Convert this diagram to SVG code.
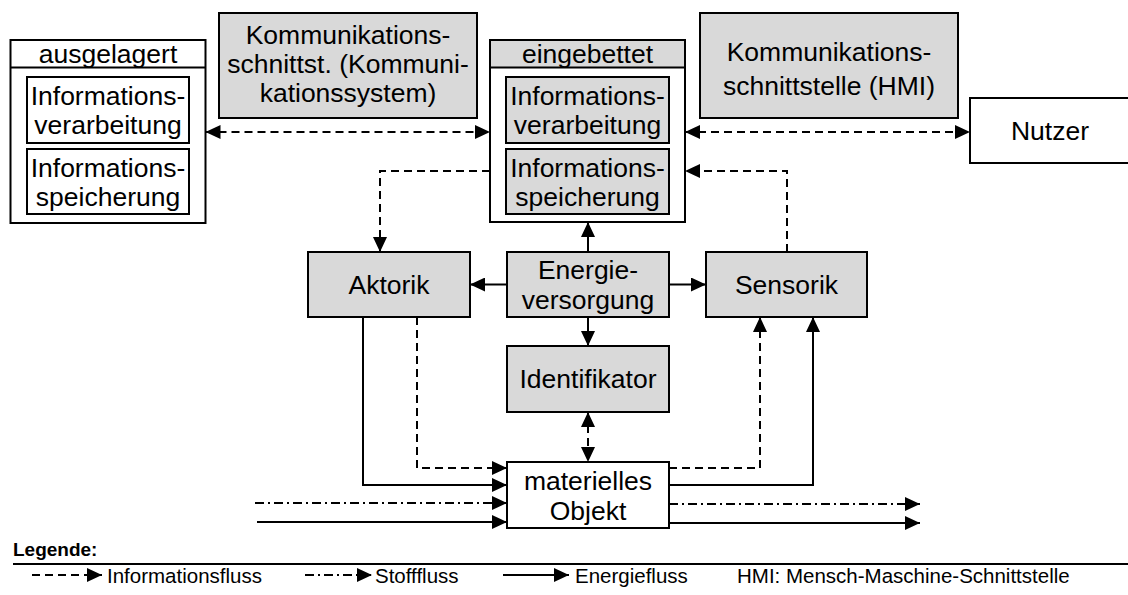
<svg xmlns="http://www.w3.org/2000/svg" width="1128" height="595" viewBox="0 0 1128 595">
  <style>
    .box { fill: #ffffff; stroke: #000000; stroke-width: 2; }
    .gray { fill: #d9d9d9; }
    .sep { stroke: #000000; stroke-width: 2; }
    .t { font-family: "Liberation Sans", Arial, sans-serif; font-size: 26.5px; text-anchor: middle; fill: #000000; }
    .lg { font-family: "Liberation Sans", Arial, sans-serif; font-size: 20.5px; fill: #000000; }
    .lgh { font-family: "Liberation Sans", Arial, sans-serif; font-size: 19px; font-weight: bold; fill: #000000; }
    .ln { fill: none; stroke: #000000; stroke-width: 2; }
    .info { stroke-dasharray: 8 5; }
    .stoff { stroke-dasharray: 9 4 2 4; }
  </style>
  <defs>
    <marker id="arrow" markerUnits="userSpaceOnUse" markerWidth="15" markerHeight="14" refX="15" refY="7" orient="auto-start-reverse">
      <path d="M0,0 L15,7 L0,14 z" fill="#000000"/>
    </marker>
  </defs>

  <!-- external information processing -->
  <g id="ausgelagert">
    <rect class="box" x="10.5" y="40" width="195" height="183"/>
    <line class="sep" x1="10.5" y1="67.5" x2="205.5" y2="67.5"/>
    <text class="t" x="108" y="63">ausgelagert</text>
    <rect class="box" x="27" y="77" width="162" height="66"/>
    <text class="t" x="108" y="105">Informations-</text>
    <text class="t" x="108" y="134">verarbeitung</text>
    <rect class="box" x="27" y="149" width="162" height="65"/>
    <text class="t" x="108" y="177">Informations-</text>
    <text class="t" x="108" y="206">speicherung</text>
  </g>

  <g id="komm-system">
    <rect class="box gray" x="219" y="13" width="258" height="105"/>
    <text class="t" x="348" y="44">Kommunikations-</text>
    <text class="t" x="348" y="73">schnittst. (Kommuni-</text>
    <text class="t" x="348" y="102">kationssystem)</text>
  </g>

  <!-- embedded information processing -->
  <g id="eingebettet">
    <rect class="box" x="490" y="40" width="195" height="182"/>
    <rect class="gray" x="491" y="41" width="193" height="26.5"/>
    <line class="sep" x1="490" y1="67.5" x2="685" y2="67.5"/>
    <text class="t" x="587.5" y="63">eingebettet</text>
    <rect class="box gray" x="506" y="77" width="163" height="66"/>
    <text class="t" x="587.5" y="105">Informations-</text>
    <text class="t" x="587.5" y="134">verarbeitung</text>
    <rect class="box gray" x="506" y="149" width="163" height="65"/>
    <text class="t" x="587.5" y="177">Informations-</text>
    <text class="t" x="587.5" y="206">speicherung</text>
  </g>

  <g id="komm-hmi">
    <rect class="box gray" x="700" y="13" width="258" height="105"/>
    <text class="t" x="829" y="61">Kommunikations-</text>
    <text class="t" x="829" y="95">schnittstelle (HMI)</text>
  </g>

  <g id="nutzer">
    <rect class="box" x="970" y="98" width="170" height="65"/>
    <text class="t" x="1050" y="140">Nutzer</text>
  </g>

  <g id="aktorik">
    <rect class="box gray" x="308" y="252" width="162" height="65"/>
    <text class="t" x="389" y="294">Aktorik</text>
  </g>

  <g id="energieversorgung">
    <rect class="box gray" x="507" y="252" width="162" height="65"/>
    <text class="t" x="588" y="279">Energie-</text>
    <text class="t" x="588" y="309">versorgung</text>
  </g>

  <g id="sensorik">
    <rect class="box gray" x="706" y="252" width="161" height="65"/>
    <text class="t" x="786.5" y="294">Sensorik</text>
  </g>

  <g id="identifikator">
    <rect class="box gray" x="507" y="346" width="162" height="66"/>
    <text class="t" x="588" y="388">Identifikator</text>
  </g>

  <g id="objekt">
    <rect class="box" x="507" y="462" width="162" height="66"/>
    <text class="t" x="588" y="490">materielles</text>
    <text class="t" x="588" y="520">Objekt</text>
  </g>

  <g id="connectors">
    <!-- information flows -->
    <line class="ln info" x1="205.5" y1="132" x2="490" y2="132" marker-start="url(#arrow)" marker-end="url(#arrow)"/>
    <line class="ln info" x1="685" y1="132" x2="970" y2="132" marker-start="url(#arrow)" marker-end="url(#arrow)"/>
    <polyline class="ln info" points="490,171 380,171 380,252" marker-end="url(#arrow)"/>
    <polyline class="ln info" points="787,252 787,171 685,171" marker-end="url(#arrow)"/>
    <line class="ln info" x1="588" y1="412" x2="588" y2="462" marker-start="url(#arrow)" marker-end="url(#arrow)"/>
    <polyline class="ln info" points="417,317 417,468 507,468" marker-end="url(#arrow)"/>
    <polyline class="ln info" points="669,468 760,468 760,317" marker-end="url(#arrow)"/>
    <!-- energy flows -->
    <line class="ln" x1="588" y1="252" x2="588" y2="222" marker-end="url(#arrow)"/>
    <line class="ln" x1="507" y1="284.5" x2="470" y2="284.5" marker-end="url(#arrow)"/>
    <line class="ln" x1="669" y1="284.5" x2="706" y2="284.5" marker-end="url(#arrow)"/>
    <line class="ln" x1="588" y1="317" x2="588" y2="346" marker-end="url(#arrow)"/>
    <polyline class="ln" points="363,317 363,485 507,485" marker-end="url(#arrow)"/>
    <polyline class="ln" points="669,485 813,485 813,317" marker-end="url(#arrow)"/>
    <line class="ln" x1="257" y1="522" x2="507" y2="522" marker-end="url(#arrow)"/>
    <line class="ln" x1="669" y1="523" x2="920" y2="523" marker-end="url(#arrow)"/>
    <!-- material flows -->
    <line class="ln stoff" x1="255" y1="503" x2="507" y2="503" marker-end="url(#arrow)"/>
    <line class="ln stoff" x1="669" y1="504" x2="920" y2="504" marker-end="url(#arrow)"/>
  </g>

  <!-- legend -->
  <g id="legende">
    <text class="lgh" x="13" y="556">Legende:</text>
    <line x1="13" y1="564" x2="1128" y2="564" stroke="#000000" stroke-width="2"/>
    <line class="ln info" x1="32" y1="575" x2="102" y2="575" marker-end="url(#arrow)"/>
    <text class="lg" x="107" y="583">Informationsfluss</text>
    <line class="ln stoff" x1="305" y1="575" x2="372" y2="575" marker-end="url(#arrow)"/>
    <text class="lg" x="375" y="583">Stofffluss</text>
    <line class="ln" x1="503" y1="575" x2="569" y2="575" marker-end="url(#arrow)"/>
    <text class="lg" x="575" y="583">Energiefluss</text>
    <text class="lg" x="737" y="583">HMI: Mensch-Maschine-Schnittstelle</text>
  </g>
</svg>
